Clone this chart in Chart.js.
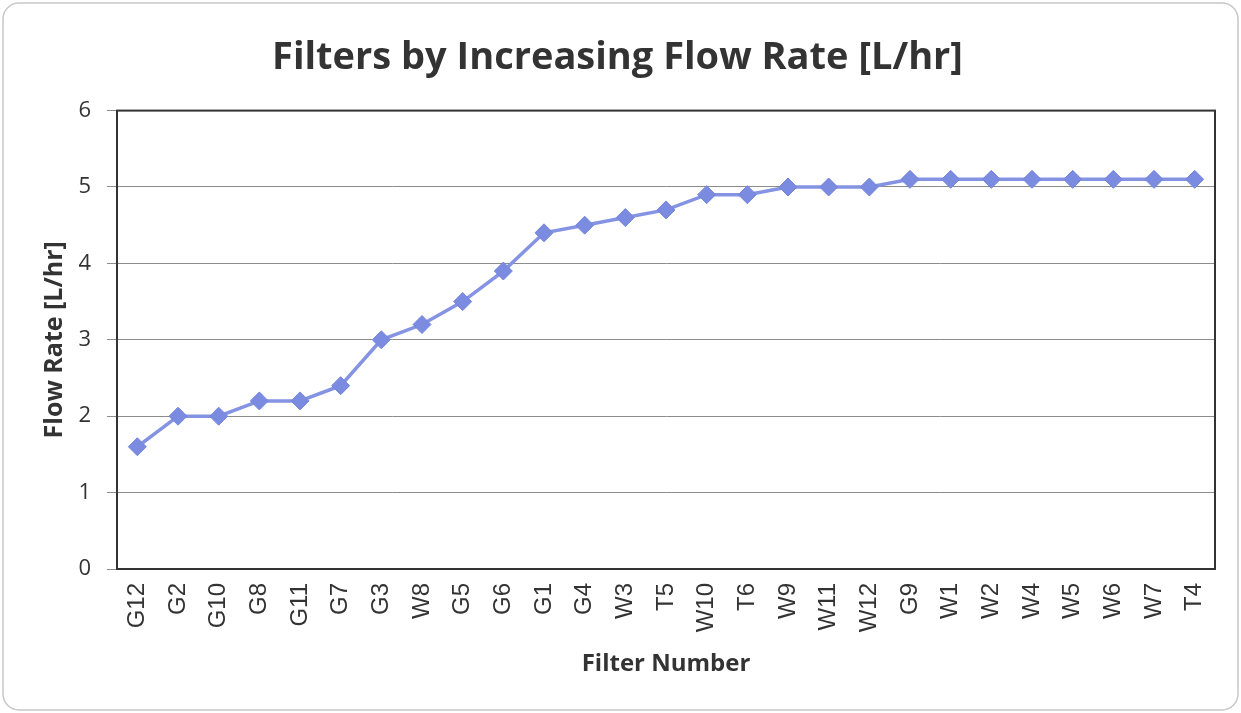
<!DOCTYPE html>
<html>
<head>
<meta charset="utf-8">
<script src="https://cdn.jsdelivr.net/npm/chart.js@4"></script>
<style>
  html, body { margin: 0; padding: 0; background: #fff; }
  #wrap { width: 1241px; height: 713px; }
</style>
</head>
<body>
<div id="wrap"><canvas id="flowChart" width="1241" height="713"></canvas></div>
<script>
// filters, sorted by flow rate
const filterNames = ['G12', 'G2', 'G10', 'G8', 'G11', 'G7', 'G3', 'W8', 'G5', 'G6', 'G1', 'G4', 'W3', 'T5',
  'W10', 'T6', 'W9', 'W11', 'W12', 'G9', 'W1', 'W2', 'W4', 'W5', 'W6', 'W7', 'T4'];
const flowRates = [1.6, 2.0, 2.0, 2.2, 2.2, 2.4, 3.0, 3.2, 3.5, 3.9, 4.4, 4.5, 4.6, 4.7,
  4.9, 4.9, 5.0, 5.0, 5.0, 5.1, 5.1, 5.1, 5.1, 5.1, 5.1, 5.1, 5.1];
const yTicks = [0, 1, 2, 3, 4, 5, 6];

// outer rounded frame + plot box
const framePlugin = {
  id: 'frame',
  beforeDraw(chart) {
    const ctx = chart.ctx;
    ctx.save();
    ctx.strokeStyle = '#c8c8c8';
    ctx.lineWidth = 1.5;
    ctx.beginPath();
    ctx.roundRect(3, 3, chart.width - 6, chart.height - 6, 16);
    ctx.stroke();
    ctx.restore();
  },
  afterDatasetsDraw(chart) {
    const a = chart.chartArea;
    const ctx = chart.ctx;
    ctx.save();
    ctx.strokeStyle = '#333';
    ctx.lineWidth = 2;
    ctx.strokeRect(a.left, a.top, a.right - a.left, a.bottom - a.top);
    ctx.restore();
  }
};

new Chart(document.getElementById('flowChart'), {
  type: 'line',
  data: {
    labels: filterNames,
    datasets: [{
      label: 'Flow Rate',
      data: flowRates,
      borderColor: '#8593e3',
      backgroundColor: '#7b8be0',
      borderWidth: 3.5,
      pointStyle: 'rectRot',
      pointRadius: 9,
      pointHoverRadius: 9,
      pointBorderWidth: 1,
      pointBorderColor: '#7585dd',
      tension: 0
    }]
  },
  options: {
    responsive: false,
    animation: false,
    layout: { padding: { left: 20, right: 26, top: 0, bottom: 14 } },
    plugins: {
      legend: { display: false },
      tooltip: { enabled: false },
      title: {
        display: true,
        text: 'Filters by Increasing Flow Rate [L/hr]',
        color: '#333',
        font: { family: 'Open Sans', size: 38, weight: 'bold' },
        padding: { top: 35, bottom: 30 }
      }
    },
    scales: {
      x: {
        offset: true,
        afterFit(scale) { scale.height = 130; },
        grid: { display: false, drawTicks: false },
        border: { display: true, color: '#333', width: 2 },
        ticks: {
          color: '#333',
          font: { family: 'Liberation Sans', size: 24 },
          minRotation: 90,
          maxRotation: 90,
          padding: 14,
          autoSkip: false
        },
        title: {
          display: true,
          text: 'Filter Number',
          color: '#333',
          font: { family: 'Open Sans', size: 24, weight: 'bold' },
          padding: { top: 0, bottom: 20 }
        }
      },
      y: {
        min: 0,
        max: 6,
        afterBuildTicks(scale) {
          scale.ticks = yTicks.map(v => ({ value: v }));
        },
        afterFit(scale) { scale.width = 97; },
        grid: { color: '#8c8c8c', lineWidth: 1, tickLength: 10, drawTicks: true },
        border: { display: true, color: '#333', width: 2 },
        ticks: {
          color: '#333',
          font: { family: 'Open Sans', size: 22 },
          padding: 16
        },
        title: {
          display: true,
          text: 'Flow Rate [L/hr]',
          color: '#333',
          font: { family: 'Open Sans', size: 25, weight: 'bold' },
          padding: { top: 20, bottom: 0 }
        }
      }
    }
  },
  plugins: [framePlugin]
});
</script>
</body>
</html>
